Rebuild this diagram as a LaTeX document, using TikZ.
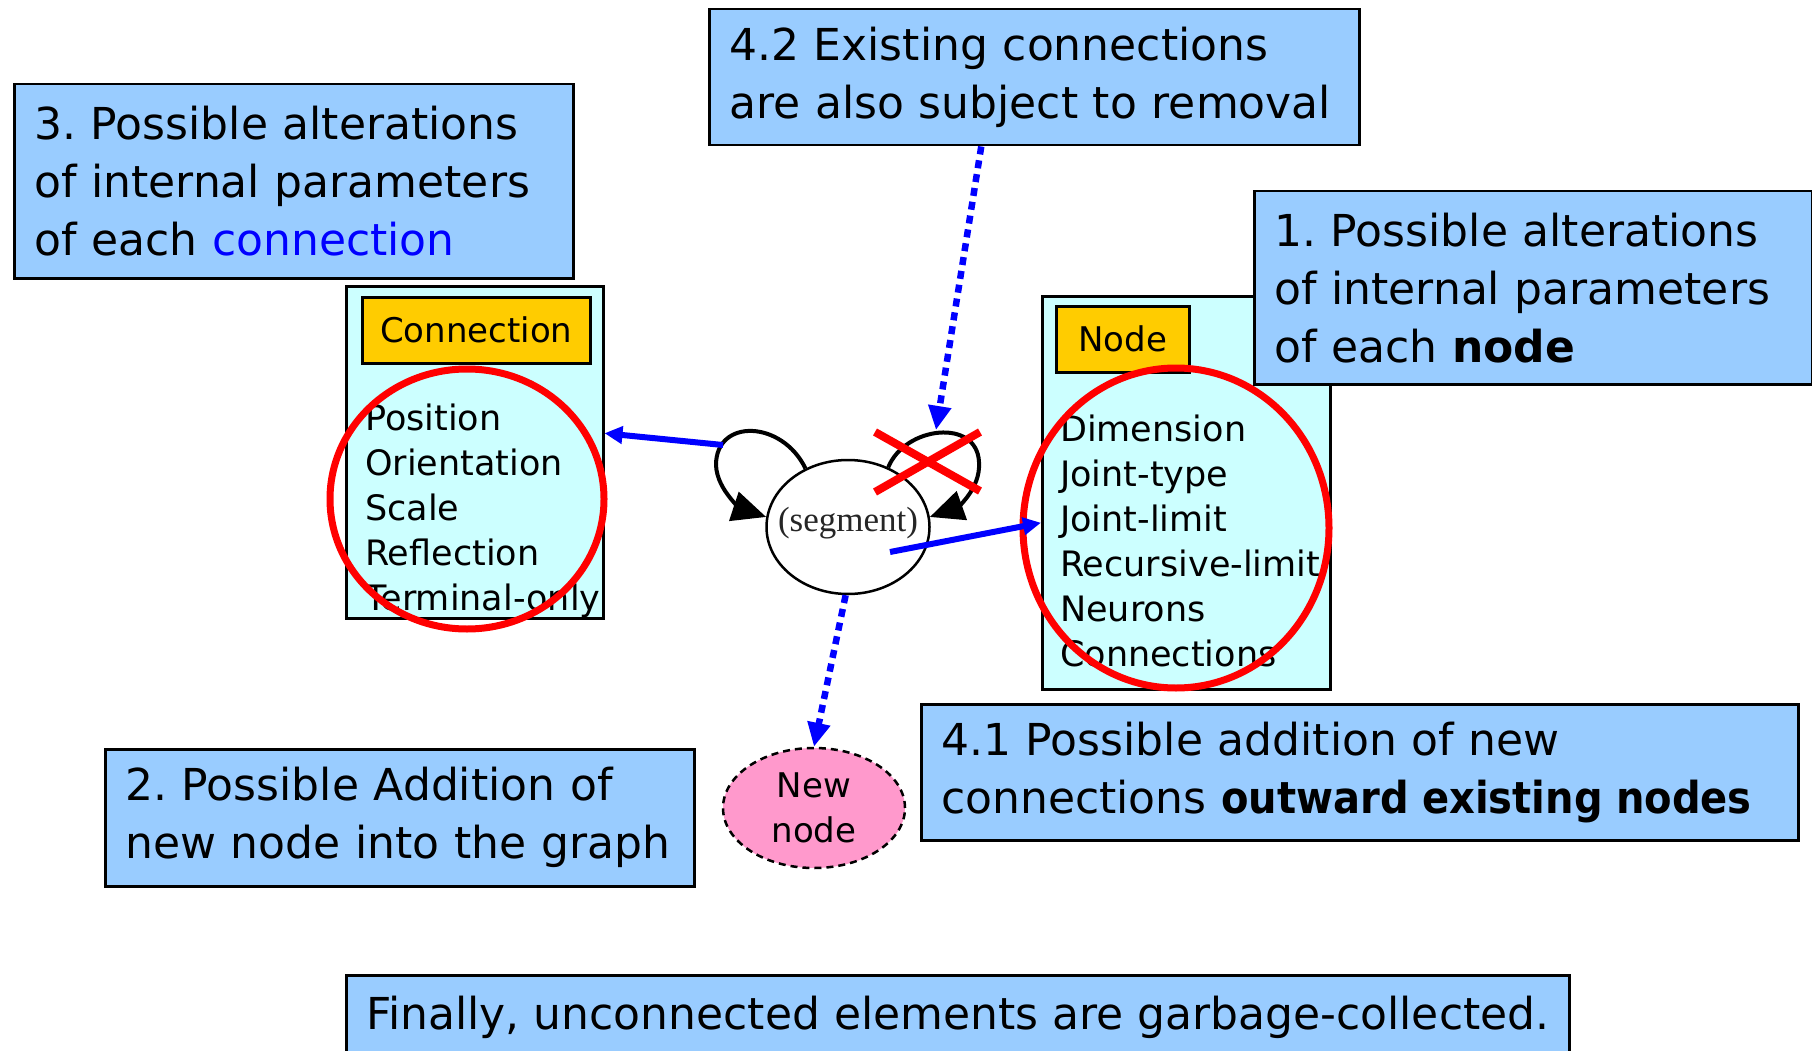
\documentclass[tikz,border=0pt]{standalone}
\usepackage{fontspec}
\setmainfont{DejaVu Sans}
\newfontfamily\segfont{Liberation Serif}
\usetikzlibrary{arrows.meta,shapes.geometric}
\frenchspacing
\definecolor{noteblue}{HTML}{99CCFF}
\definecolor{panelcyan}{HTML}{CCFFFF}
\definecolor{hdryellow}{HTML}{FFCC00}
\definecolor{newpink}{HTML}{FF99CC}
\definecolor{linkblue}{HTML}{0000FF}
\definecolor{markred}{HTML}{FF0000}
\tikzset{
  note/.style={draw=black, line width=2.5pt, fill=noteblue, anchor=north west,
    align=left, inner xsep=20pt, inner ysep=0pt,
    font=\fontsize{44}{58}\selectfont},
  panel/.style={draw=black, line width=2.5pt, fill=panelcyan, anchor=north west,
    inner sep=0pt},
  hdr/.style={draw=black, line width=2.5pt, fill=hdryellow, anchor=north west,
    inner sep=0pt, font=\fontsize{34}{40}\selectfont},
  items/.style={anchor=west, align=left, inner sep=0pt,
    font=\fontsize{35}{45}\selectfont},
  ring/.style={ellipse, draw=markred, line width=7pt, inner sep=0pt},
  flow/.style={draw=linkblue, line width=6pt,
    -{Triangle[length=18pt,width=17pt]}},
  dotflow/.style={draw=linkblue, line width=6.5pt, dash pattern=on 8pt off 6pt,
    -{Triangle[length=24pt,width=22pt]}},
  selfloop/.style={draw=black, line width=4pt,
    -{Triangle[length=34pt,width=30pt]}},
  cross/.style={draw=markred, line width=8pt}
}
\begin{document}
\begin{tikzpicture}[x=1pt,y=-1pt]
\useasboundingbox (0,0) rectangle (1812,1051);
\clip (0,0) rectangle (1812,1051);
\fill[white] (0,0) rectangle (1812,1051);

% explanatory notes
\node[note, minimum width=559pt, minimum height=194pt, text width=519pt] (b3) at (13,83)
  {3. Possible alterations\\of internal parameters\\of each \textcolor{linkblue}{connection}};
\node[note, minimum width=650pt, minimum height=136pt, text width=610pt] (b42) at (708,8)
  {4.2 Existing connections\\are also subject to removal};

% connection panel
\node[panel, minimum width=257pt, minimum height=332pt] (cpanel) at (345,285) {};
\node[hdr, minimum width=228pt, minimum height=66pt] (chdr) at (361,296) {Connection};
\node[items] (citems) at (365,511)
  {Position\\Orientation\\Scale\\Reflection\\Terminal-only};
\node[ring, minimum width=274pt, minimum height=260pt] (cring) at (467,499) {};

% node panel
\node[panel, minimum width=288pt, minimum height=393pt] (npanel) at (1041,295) {};
\node[hdr, minimum width=133pt, minimum height=66pt] (nhdr) at (1055,305) {Node};
\node[items] (nitems) at (1060,541)
  {Dimension\\Joint-type\\Joint-limit\\Recursive-limit\\Neurons\\Connections};
\node[ring, minimum width=306pt, minimum height=320pt] (nring) at (1176,528) {};

\node[note, minimum width=558pt, minimum height=193pt, text width=518pt] (b1) at (1253,190)
  {1. Possible alterations\\of internal parameters\\of each \textbf{node}};

% segment graph node
\node[ellipse, draw=black, line width=2.5pt, fill=white, inner sep=0pt,
  minimum width=163pt, minimum height=134pt] (seg) at (848,527) {};
\node[font=\segfont\fontsize{35}{40}\selectfont, text=black!85, inner sep=0pt]
  (segtxt) at ([yshift=4pt]seg.center) {(segment)};

% self loops
\draw[selfloop] (seg.126) .. controls (782,420) and (716,418) .. (716,465)
  .. controls (717,492) and (745,510) .. (seg.173);
\coordinate (looptop) at (936,430);
\draw[selfloop] (seg.56) .. controls (905,426) and (977,418) .. (979,462)
  .. controls (981,490) and (955,508) .. (seg.7);

% removed loop
\draw[cross] (875,432) -- (980,491);
\draw[cross] (875,492) -- (980,432);

% mutations
\coordinate (ls) at (723,445);
\coordinate (rs) at (890,552);
\draw[flow] (ls) -- ([yshift=19pt]cpanel.east);
\draw[flow] (rs) -- ([yshift=-30pt]npanel.west);
\draw[dotflow] ([xshift=-53pt]b42.south) -- (looptop);

% new node
\node[ellipse, draw=black, line width=2.5pt, dash pattern=on 7pt off 5pt,
  fill=newpink, inner sep=0pt, minimum width=182pt, minimum height=120pt,
  align=center, font=\fontsize{34}{45}\selectfont] (newn) at (814,808) {New\\node};
\draw[dotflow] (seg.268) -- (newn.north);

\node[note, minimum width=589pt, minimum height=137pt, text width=549pt] (b2) at (104,748)
  {2. Possible Addition of\\new node into the graph};
\node[note, minimum width=877pt, minimum height=136pt, text width=837pt] (b41) at (920,703)
  {4.1 Possible addition of new\\connections \scalebox{0.91}[1]{\textbf{outward existing nodes}}};

% closing remark
\node[note, align=center, minimum width=1222pt, minimum height=84pt] (fin) at (345,974)
  {Finally, unconnected elements are garbage-collected.};
\end{tikzpicture}
\end{document}
